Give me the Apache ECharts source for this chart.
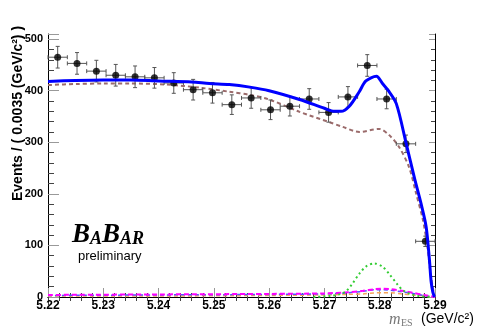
<!DOCTYPE html>
<html>
<head>
<meta charset="utf-8">
<script src="https://cdn.jsdelivr.net/npm/echarts@6/dist/echarts.min.js"></script>
<style>
  html, body { margin: 0; padding: 0; background: #fff; }
  #chart { width: 486px; height: 330px; }
</style>
</head>
<body>
<div id="chart"></div>
<script>
// data points (bin width 0.0035)
const binCenters = [5.22175, 5.22525, 5.22875, 5.23225, 5.23575, 5.23925, 5.24275, 5.24625, 5.24975, 5.25325,
                    5.25675, 5.26025, 5.26375, 5.26725, 5.27075, 5.27425, 5.27775, 5.28125, 5.28475, 5.28825];
const counts = [465, 453, 438, 430, 427, 425, 415, 402, 396, 373, 386, 363, 370, 384, 358, 388, 449, 384, 297, 108];
const countErrors = [21, 21, 21, 21, 21, 20, 20, 20, 20, 19, 20, 19, 19, 20, 19, 20, 21, 19, 17, 10];
const halfBin = 0.00175;

// fit components
const totalX = [5.2200, 5.2250, 5.2300, 5.2350, 5.2400, 5.2460, 5.2492, 5.2528, 5.2565, 5.2600, 5.2655, 5.2700, 5.2718, 5.2730,
                5.2745, 5.2763, 5.2775, 5.2794, 5.2805, 5.2815, 5.2830, 5.2848, 5.2863, 5.2875, 5.2884, 5.2890, 5.2893, 5.2896, 5.2899];
const totalY = [418, 420, 421, 421, 419, 417, 414, 412, 407, 400, 383, 366, 360, 360,
                370, 398, 419, 428, 414, 401, 375, 297, 230, 180, 136, 71, 30, 10, 0];

const bkgX = [5.2200, 5.2250, 5.2300, 5.2350, 5.2414, 5.2474, 5.2528, 5.2565, 5.2600, 5.2655, 5.2709,
              5.2733, 5.2763, 5.2799, 5.2817, 5.2835, 5.2853, 5.2866, 5.2878, 5.2886, 5.2892, 5.2899];
const bkgY = [411, 413, 414, 414, 412, 406, 398, 392, 383, 359, 339, 330, 320, 326, 314, 291, 252, 200, 150, 100, 45, 0];

const sigX = [5.2680, 5.2710, 5.2730, 5.2740, 5.2750, 5.2763, 5.2775, 5.2790, 5.2805, 5.2817, 5.2833, 5.2842, 5.2855, 5.2870, 5.2890];
const sigY = [0, 2, 6, 12, 25, 45, 59, 65, 59, 45, 23, 13, 6, 2, 0];

const smallX = [5.2200, 5.2400, 5.2600, 5.2700, 5.2740, 5.2770, 5.2790, 5.2805, 5.2820, 5.2840, 5.2860, 5.2880, 5.2900];
const magentaY = [4, 5, 6, 7, 9, 12, 15, 16, 15, 12, 8, 4, 0];
const blueDashY = [3, 4, 5, 6, 8, 11, 14, 14, 13, 10, 7, 3, 0];
const orangeY = [2, 2, 3, 4, 5, 6, 8, 8, 8, 6, 4, 2, 0];

const xTicks = ['5.22', '5.23', '5.24', '5.25', '5.26', '5.27', '5.28', '5.29'];

const pairs = (xs, ys) => xs.map((x, i) => [x, ys[i]]);

const chart = echarts.init(document.getElementById('chart'));

const tickFont = { fontFamily: 'Liberation Sans', fontWeight: 'bold', color: '#000' };

function curve(name, xs, ys, color, width, type, z) {
  return {
    name: name,
    type: 'line',
    data: pairs(xs, ys),
    showSymbol: false,
    smooth: 0.3,
    lineStyle: { color: color, width: width, type: type },
    z: z,
    silent: true
  };
}

const option = {
  animation: false,
  grid: { left: 48, right: 51, top: 34, bottom: 33 },
  xAxis: [
    {
      type: 'value', min: 5.22, max: 5.29, interval: 0.01, position: 'bottom',
      axisLine: { lineStyle: { color: '#000', width: 1 } },
      axisTick: { inside: true, length: 9, lineStyle: { color: '#999' } },
      minorTick: { show: true, splitNumber: 5, length: 4, lineStyle: { color: '#444' } },
      splitLine: { show: false },
      axisLabel: Object.assign({ fontSize: 12, margin: 3,
        formatter: v => xTicks.find(t => Math.abs(parseFloat(t) - v) < 1e-6) || '' }, tickFont)
    },
    {
      type: 'value', min: 5.22, max: 5.29, interval: 0.01, position: 'top',
      axisLine: { lineStyle: { color: '#000', width: 1 } },
      axisTick: { inside: true, length: 8, lineStyle: { color: '#444' } },
      minorTick: { show: true, splitNumber: 5, length: 4, lineStyle: { color: '#444' } },
      splitLine: { show: false },
      axisLabel: { show: false }
    }
  ],
  yAxis: [
    {
      type: 'value', min: 0, max: 510, interval: 100, position: 'left',
      axisLine: { show: true, lineStyle: { color: '#000', width: 1 } },
      axisTick: { show: true, inside: true, length: 11, lineStyle: { color: '#999' } },
      minorTick: { show: true, splitNumber: 5, length: 6, lineStyle: { color: '#444' } },
      splitLine: { show: false },
      axisLabel: Object.assign({ fontSize: 11, margin: 5,
        formatter: v => (v % 100 === 0 ? String(v) : '') }, tickFont)
    },
    {
      type: 'value', min: 0, max: 510, interval: 100, position: 'right',
      axisLine: { show: true, lineStyle: { color: '#000', width: 1 } },
      axisTick: { show: true, inside: true, length: 6, lineStyle: { color: '#999' } },
      minorTick: { show: true, splitNumber: 5, length: 4, lineStyle: { color: '#444' } },
      splitLine: { show: false },
      axisLabel: { show: false }
    }
  ],
  series: [
    curve('orange', smallX, orangeY, '#f5a55a', 1.5, [4, 3], 3),
    curve('blueDash', smallX, blueDashY, '#5555ff', 1.5, [4, 3], 3),
    curve('magenta', smallX, magentaY, '#ff00ff', 2, [5, 3], 4),
    curve('signal', sigX, sigY, '#33cc33', 2, [2, 3], 4),
    curve('background', bkgX, bkgY, '#9b6b6b', 2, [4, 3], 5),
    {
      type: 'custom',
      silent: true,
      data: binCenters.map((x, i) => [x, counts[i], halfBin, countErrors[i]]),
      encode: { x: 0, y: 1 },
      renderItem: function (params, api) {
        const x = api.value(0), y = api.value(1), ex = api.value(2), ey = api.value(3);
        const l = api.coord([x - ex, y]), r = api.coord([x + ex, y]);
        const t = api.coord([x, y + ey]), b = api.coord([x, y - ey]);
        const st = { stroke: '#555', lineWidth: 1 };
        return {
          type: 'group',
          children: [
            { type: 'line', shape: { x1: l[0], y1: l[1], x2: r[0], y2: r[1] }, style: st },
            { type: 'line', shape: { x1: t[0], y1: t[1], x2: b[0], y2: b[1] }, style: st },
            { type: 'line', shape: { x1: l[0], y1: l[1] - 2, x2: l[0], y2: l[1] + 2 }, style: st },
            { type: 'line', shape: { x1: r[0], y1: r[1] - 2, x2: r[0], y2: r[1] + 2 }, style: st },
            { type: 'line', shape: { x1: t[0] - 2, y1: t[1], x2: t[0] + 2, y2: t[1] }, style: st },
            { type: 'line', shape: { x1: b[0] - 2, y1: b[1], x2: b[0] + 2, y2: b[1] }, style: st }
          ]
        };
      },
      z: 6
    },
    {
      type: 'scatter',
      data: pairs(binCenters, counts),
      symbol: 'circle',
      symbolSize: 7,
      itemStyle: { color: '#000' },
      silent: true,
      z: 7
    },
    curve('total', totalX, totalY, '#0000ff', 3, 'solid', 8)
  ],
  graphic: [
    {
      type: 'text', x: 18, y: 201, rotation: Math.PI / 2,
      style: {
        text: 'Events / ( 0.0035 (GeV/c²) )',
        font: 'bold 14px "Liberation Sans"', fill: '#000',
        textAlign: 'left', textVerticalAlign: 'middle'
      }
    },
    {
      type: 'text', x: 389, y: 320,
      style: { text: 'm', font: 'italic 16px "Liberation Serif"', fill: '#777', textAlign: 'left', textVerticalAlign: 'middle' }
    },
    {
      type: 'text', x: 401, y: 323,
      style: { text: 'ES', font: '10px "Liberation Serif"', fill: '#777', textAlign: 'left', textVerticalAlign: 'middle' }
    },
    {
      type: 'text', x: 421, y: 319,
      style: { text: '(GeV/c²)', font: '14px "Liberation Sans"', fill: '#000', textAlign: 'left', textVerticalAlign: 'middle' }
    },
    {
      type: 'text', x: 72, y: 249,
      style: {
        text: '{b|B}{s|A}{b|B}{s|AR}',
        fill: '#000', textAlign: 'left', textVerticalAlign: 'bottom',
        rich: {
          b: { fontFamily: 'Liberation Serif', fontStyle: 'italic', fontWeight: 'bold', fontSize: 27, verticalAlign: 'bottom', fill: '#000' },
          s: { fontFamily: 'Liberation Serif', fontStyle: 'italic', fontWeight: 'bold', fontSize: 18, verticalAlign: 'bottom', fill: '#000', padding: [0, 0, 1, 0] }
        }
      }
    },
    {
      type: 'text', x: 78, y: 256,
      style: { text: 'preliminary', font: '13px "Liberation Sans"', fill: '#000', textAlign: 'left', textVerticalAlign: 'middle' }
    }
  ]
};

chart.setOption(option);
</script>
</body>
</html>
